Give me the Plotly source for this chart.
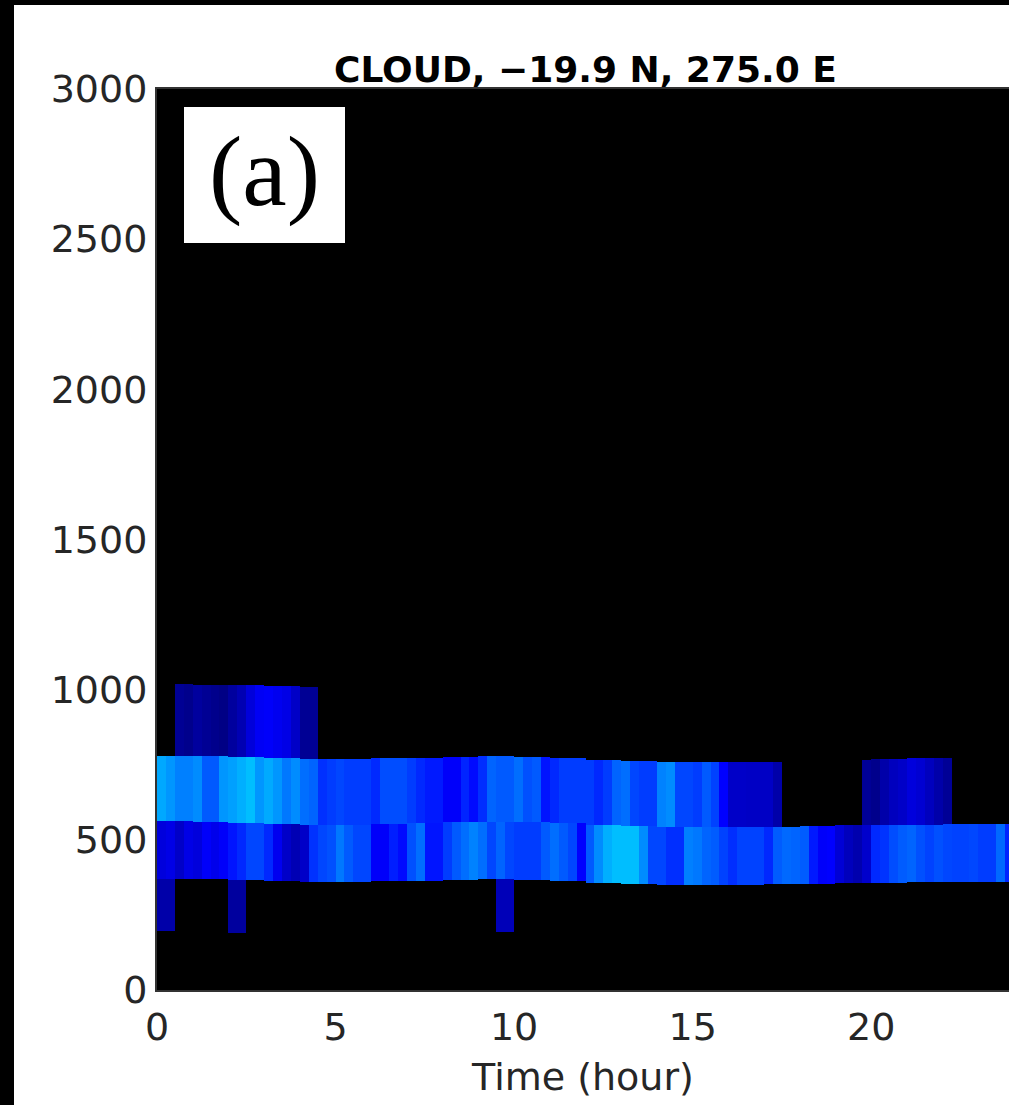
import numpy as np
import plotly.graph_objects as go

# ---------------- data ----------------
# 15-minute model columns over the day
col_width_h = 0.25
n_cols = 96
time_centers = (np.arange(n_cols) + 0.5) * col_width_h

# cloud fraction per column, per layer (None = no cloud)
layer1_vals = ([0.04, 0.04] + [None] * 6 + [0.03, 0.03] + [None] * 28 + [0.055, 0.055] + [None] * 56)

layer2_vals = [
    0.091, 0.1, 0.071, 0.1, 0.091, 0.12, 0.105, 0.12, 0.145, 0.164, 0.194, 0.194, 0.164, 0.11, 0.071, 0.051, 0.071, 0.174,
    0.194, 0.203, 0.243, 0.213, 0.194, 0.194, 0.12, 0.12, 0.154, 0.135, 0.203, 0.233, 0.145, 0.145, 0.184, 0.213, 0.233, 0.252, 0.233,
    0.194, 0.223, 0.194, 0.184, 0.184, 0.184, 0.213, 0.233, 0.213, 0.194, 0.125, 0.213, 0.262, 0.297, 0.311, 0.311, 0.311, 0.262,
    0.194, 0.194, 0.17, 0.17, 0.25, 0.243, 0.223, 0.215, 0.19, 0.17, 0.19, 0.19, 0.19, 0.164, 0.215, 0.228, 0.223, 0.215,
    0.15, 0.12, 0.125, 0.085, 0.06, 0.045, 0.075, 0.165, 0.175, 0.2, 0.215, 0.223, 0.203, 0.19, 0.203, 0.194, 0.19, 0.19, 0.195,
    0.184, 0.184, 0.228, 0.16,
]

layer3_vals = [
    0.29, 0.272, 0.25, 0.25, 0.262, 0.213, 0.213, 0.272, 0.282, 0.297, 0.311, 0.272, 0.292, 0.272, 0.243, 0.262, 0.233, 0.223,
    0.172, 0.184, 0.194, 0.184, 0.184, 0.184, 0.165, 0.2, 0.2, 0.2, 0.184, 0.164, 0.15, 0.15, 0.12, 0.12, 0.16, 0.135, 0.17,
    0.223, 0.213, 0.213, 0.233, 0.203, 0.213, 0.145, 0.164, 0.184, 0.184, 0.184, 0.184, 0.164, 0.184, 0.223, 0.233, 0.194, 0.184,
    0.184, 0.252, 0.262, 0.194, 0.194, 0.184, 0.213, 0.19, 0.125, 0.071, 0.071, 0.068, 0.068, 0.068, 0.04,
] + [None] * 9 + [0.022, 0.012, 0.04, 0.061, 0.071, 0.091, 0.081, 0.061, 0.04, 0.022] + [None] * 7

layer4_vals = ([None] * 2 + [0.02, 0.012, 0.03, 0.02, 0.012, 0.005, 0.03, 0.05, 0.09, 0.115, 0.12, 0.11, 0.10, 0.07, 0.02, 0.02]
               + [None] * 78)

# level heights (m), one value per hour of the day
layer1_bottom_hourly = [197, None, 189, None, None, None, None, None, None, 194] + [None] * 14
layer2_bottom_hourly = [371, 368, 365, 362, 360, 361, 362, 364, 366, 368, 366, 362,
                        357, 353, 350, 350, 351, 352, 354, 356, 357, 358, 359, 361]
layer3_bottom_hourly = [563, 560, 557, 553, 550, 551, 553, 556, 559, 561, 559, 555,
                        550, 546, 544, 543, 543, 544, 546, 548, 550, 551, 552, 553]
layer4_bottom_hourly = [780, 778, 775, 772, 769, 770, 772, 774, 776, 778, 776, 772,
                        767, 763, 760, 759, 759, 760, 762, 766, 770, 772, 774, 775]
layer4_top_hourly = [1019, 1017, 1015, 1012, 1010] + [None] * 19

x_ticks = [0, 5, 10, 15, 20]
y_ticks = [0, 500, 1000, 1500, 2000, 2500, 3000]

# MATLAB-style jet colormap
jet = [[0.0, "rgb(0,0,128)"], [0.125, "rgb(0,0,255)"], [0.375, "rgb(0,255,255)"],
       [0.625, "rgb(255,255,0)"], [0.875, "rgb(255,0,0)"], [1.0, "rgb(128,0,0)"]]

# ---------------- build ----------------
hour_of_col = (np.arange(n_cols) * col_width_h).astype(int)


def per_col(hourly):
    return np.array([np.nan if hourly[h] is None else hourly[h] for h in hour_of_col], dtype=float)


def arr(vals):
    return np.array([np.nan if v is None else v for v in vals], dtype=float)


layers = [
    (arr(layer1_vals), per_col(layer1_bottom_hourly), per_col(layer2_bottom_hourly)),
    (arr(layer2_vals), per_col(layer2_bottom_hourly), per_col(layer3_bottom_hourly)),
    (arr(layer3_vals), per_col(layer3_bottom_hourly), per_col(layer4_bottom_hourly)),
    (arr(layer4_vals), per_col(layer4_bottom_hourly), per_col(layer4_top_hourly)),
]

fig = go.Figure()
for vals, bot, top in layers:
    m = ~np.isnan(vals)
    fig.add_trace(go.Bar(
        x=time_centers[m], base=bot[m], y=(top - bot)[m], width=col_width_h,
        marker=dict(color=vals[m], colorscale=jet, cmin=0, cmax=1, line=dict(width=0)),
        showlegend=False, hoverinfo="skip",
    ))

W, H = 1009, 1105
L, R, T, B = 157, 0, 89, 115
pw, ph = W - L - R, H - T - B


def px_x(px):
    return (px - L) / pw


def px_y(py):
    return (H - B - py) / ph


tick_font = dict(family="DejaVu Sans", size=38, color="#262626")

fig.update_layout(
    width=W, height=H,
    margin=dict(l=L, r=R, t=T, b=B, pad=0),
    paper_bgcolor="white", plot_bgcolor="black",
    barmode="overlay", bargap=0,
    xaxis=dict(range=[0, (W - L) / (35.71)], tickvals=x_ticks, showgrid=False, zeroline=False,
               showline=True, linecolor="#333333", linewidth=2, mirror=True,
               ticks="outside", ticklen=2, tickcolor="rgba(0,0,0,0)", tickfont=tick_font,
               title=dict(text="Time (hour)", font=dict(family="DejaVu Sans", size=38, color="#262626"), standoff=16)),
    yaxis=dict(range=[0, 3000], tickvals=y_ticks, showgrid=False, zeroline=False,
               showline=True, linecolor="#333333", linewidth=2, mirror=False,
               ticks="outside", ticklen=0, tickcolor="rgba(0,0,0,0)", tickfont=tick_font),
    shapes=[
        dict(type="rect", xref="paper", yref="paper", x0=px_x(184), x1=px_x(345), y0=px_y(243), y1=px_y(107),
             fillcolor="white", line=dict(width=0), layer="above"),
        dict(type="rect", xref="paper", yref="paper", x0=px_x(-5), x1=px_x(14), y0=px_y(H + 5), y1=px_y(-5),
             fillcolor="black", line=dict(width=0), layer="above"),
        dict(type="rect", xref="paper", yref="paper", x0=px_x(-5), x1=px_x(W + 5), y0=px_y(5), y1=px_y(-5),
             fillcolor="black", line=dict(width=0), layer="above"),
    ],
    annotations=[
        dict(text="<b>CLOUD, \u221219.9 N, 275.0 E</b>", xref="paper", yref="paper",
             x=px_x(585.5), y=px_y(70), xanchor="center", yanchor="middle", showarrow=False,
             font=dict(family="DejaVu Sans", size=36, color="black")),
        dict(text="(a)", xref="paper", yref="paper", x=px_x(264.5), y=px_y(172),
             xanchor="center", yanchor="middle", showarrow=False,
             font=dict(family="Liberation Serif", size=100, color="black")),
    ],
)

fig.write_html("out.html", config={"displayModeBar": False},
               post_script="document.body.style.margin='0';document.body.style.overflow='hidden';")
